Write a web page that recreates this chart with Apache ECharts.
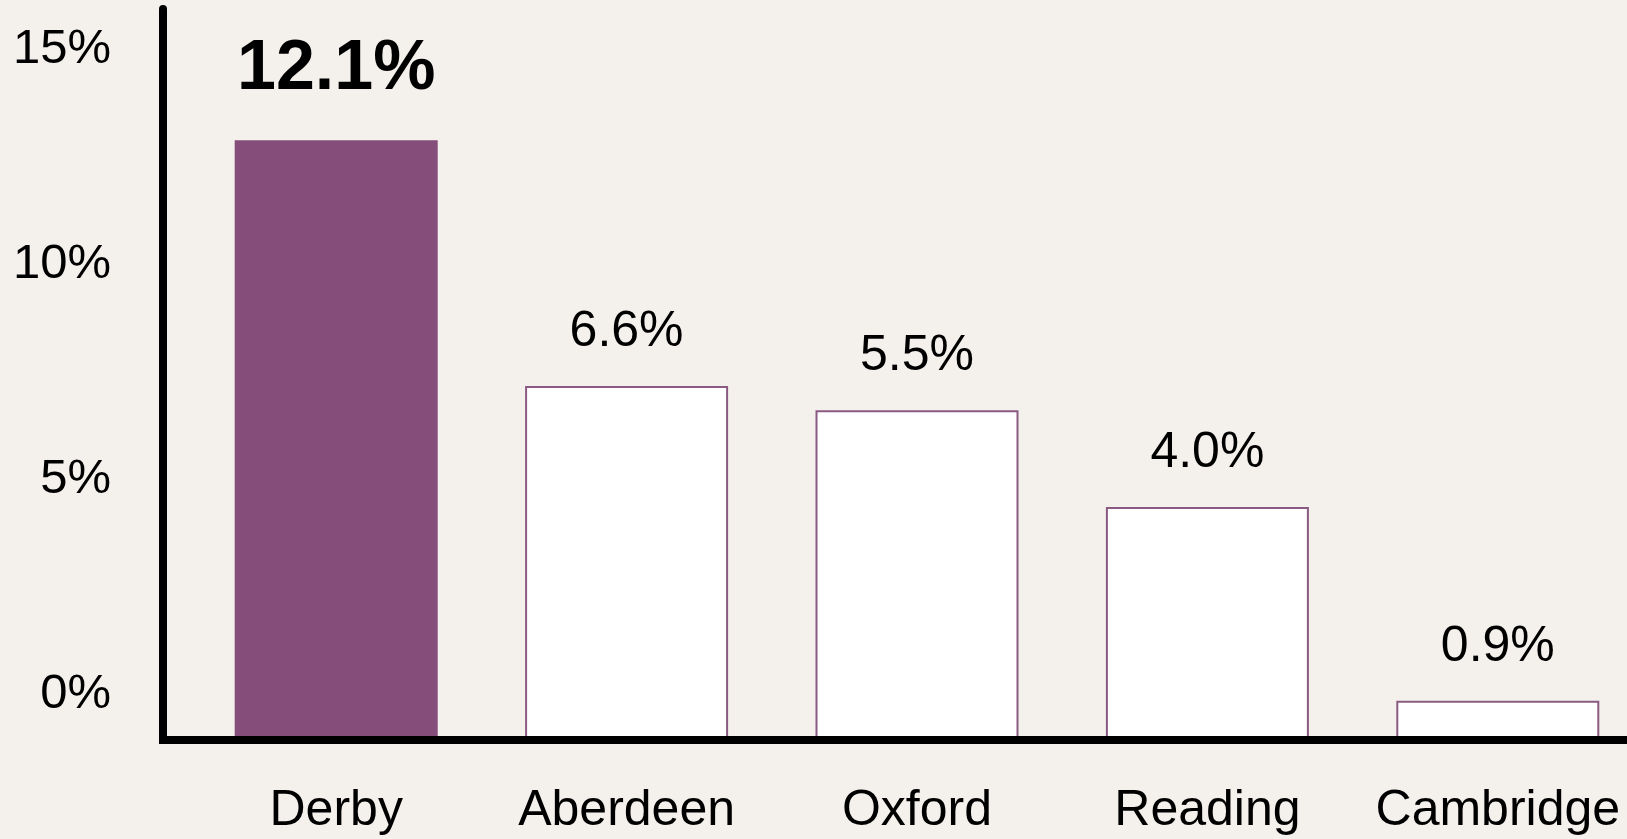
<!DOCTYPE html>
<html>
<head>
<meta charset="utf-8">
<style>
  html, body { margin: 0; padding: 0; background: #f4f0ec; }
  #main { width: 1627px; height: 839px; }
</style>
</head>
<body>
<div id="main"></div>
<script src="https://cdn.jsdelivr.net/npm/echarts@6/dist/echarts.min.js"></script>
<script>
const cities = ['Derby', 'Aberdeen', 'Oxford', 'Reading', 'Cambridge'];
// bar heights as drawn, read against the y axis
const barValues = [13.95, 8.23, 7.67, 5.42, 0.91];
// figures printed above the bars
const valueLabels = ['12.1%', '6.6%', '5.5%', '4.0%', '0.9%'];
const yTicks = [0, 5, 10, 15];
const highlight = 'Derby';

const purple = '#854d7a';
const font = 'Liberation Sans';

const dom = document.getElementById('main');
const myChart = echarts.init(dom);

function getChartOptions() {
  return {
    backgroundColor: '#f4f0ec',
    animation: false,
    grid: {
      left: 191,
      right: -16,
      top: 9,
      bottom: 99,
      containLabel: false,
      outerBoundsMode: 'none',
    },
    xAxis: {
      type: 'category',
      data: cities,
      z: 5,
      axisLine: {
        lineStyle: { color: '#000', width: 8 },
        // square piece closing the corner with the y axis
        symbol: ['rect', 'none'],
        symbolSize: [8, 64],
      },
      axisTick: { show: false },
      axisLabel: {
        interval: 0,
        color: '#000',
        fontSize: 50,
        fontFamily: font,
        margin: 46,
      },
    },
    yAxis: {
      type: 'value',
      min: 0,
      max: 17,
      interval: 5,
      offset: 28,
      z: 5,
      splitLine: { show: false },
      axisLine: { show: true, lineStyle: { color: '#000', width: 8 } },
      axisTick: { show: false },
      axisLabel: {
        color: '#000',
        fontSize: 49,
        fontFamily: font,
        margin: 52,
        // labels sit above their tick
        verticalAlign: 'bottom',
        lineHeight: 92,
        formatter: (v) => (yTicks.includes(v) ? v + '%' : ''),
      },
    },
    series: [
      {
        type: 'bar',
        barWidth: 203,
        data: cities.map((c, i) => {
          if (c === highlight) {
            return {
              value: barValues[i],
              itemStyle: { color: purple, borderWidth: 0 },
              label: { fontSize: 70, fontWeight: 'bold', distance: 35 },
            };
          }
          return barValues[i];
        }),
        itemStyle: {
          color: '#ffffff',
          borderColor: '#8a5a83',
          borderWidth: 2,
        },
        label: {
          show: true,
          position: 'top',
          distance: 29,
          color: '#000',
          fontSize: 50,
          fontFamily: font,
          formatter: (p) => valueLabels[p.dataIndex],
        },
      },
    ],
  };
}

myChart.setOption(getChartOptions());
</script>
</body>
</html>
